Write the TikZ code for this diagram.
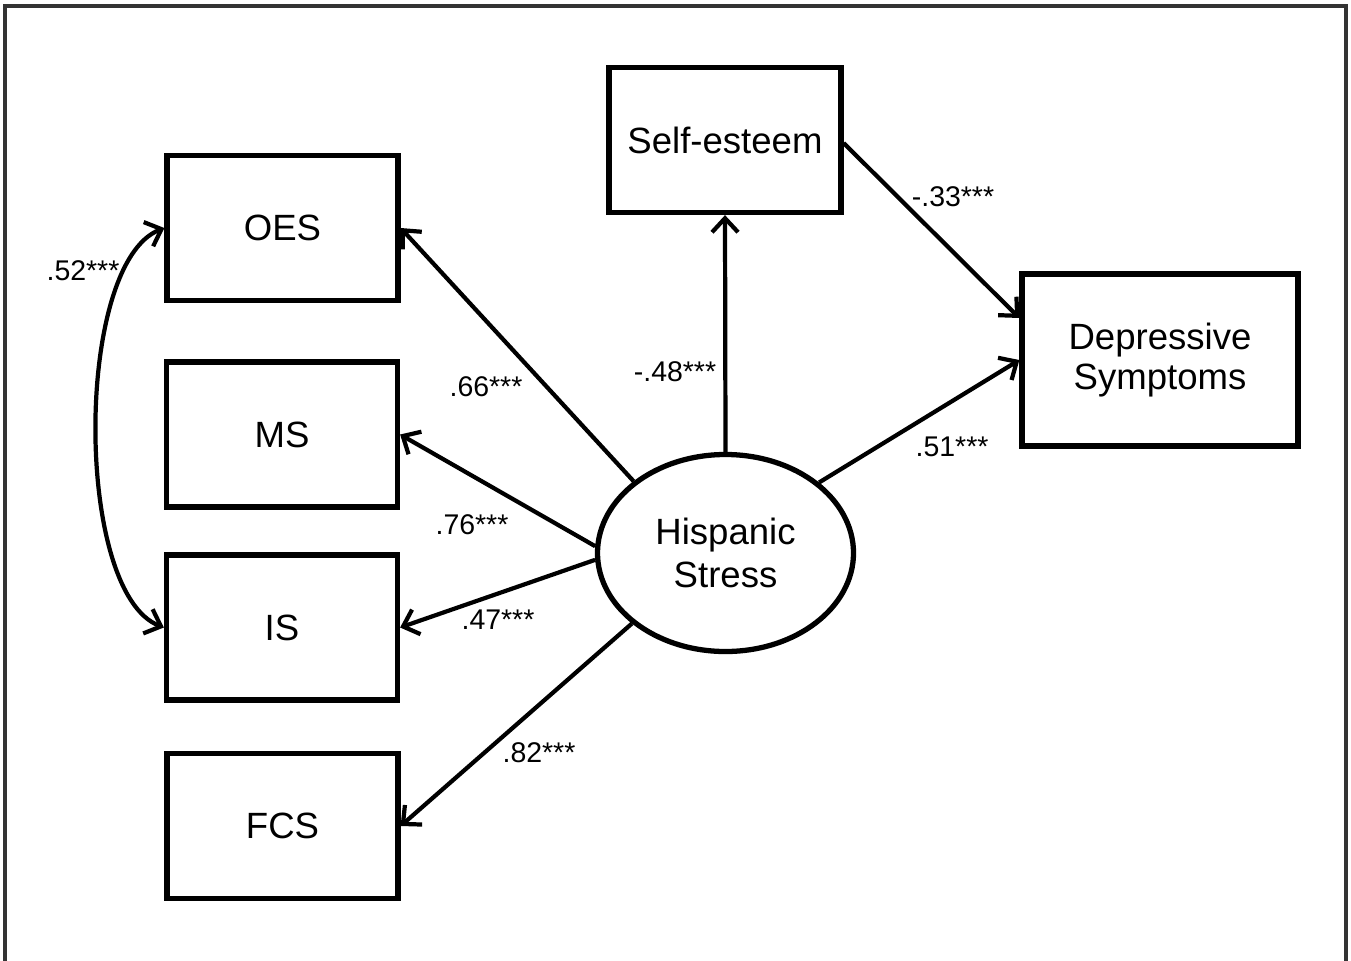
\documentclass[tikz,border=0pt]{standalone}
\usepackage{fontspec}
\setmainfont{Liberation Sans}
\usetikzlibrary{arrows.meta,shapes.geometric}
\begin{document}
\begin{tikzpicture}[line width=1.2pt,
  >={Straight Barb[length=1.4mm,width=2.6mm,line width=1.2pt]}]
\tikzset{box/.style={draw,line width=1.5pt,minimum width=2.31cm,minimum height=1.45cm,
  font=\fontsize{10.4}{11.4}\selectfont,align=center},
  coef/.style={font=\fontsize{8.1}{9.5}\selectfont,inner sep=1pt}}
\useasboundingbox (0,0) rectangle (13.51,9.60);
\draw[line width=1.3pt,draw=black!80] (0.05,-0.2) rectangle (13.46,9.54);
% variables
\node[box] (oes) at (2.825,7.32) {OES};
\node[box] (ms) at (2.82,5.255) {MS};
\node[box] (is) at (2.82,3.325) {IS};
\node[box] (fcs) at (2.825,1.34) {FCS};
\node[box,minimum width=2.32cm] (se) at (7.25,8.20) {Self-esteem};
\node[box,minimum width=2.76cm,minimum height=1.72cm] (dep) at (11.60,6.00)
  {Depressive\\Symptoms};
\node[box,ellipse,minimum width=2.56cm,minimum height=1.97cm,inner sep=0pt,
  font=\fontsize{10.4}{12.4}\selectfont] (hs)
  at (7.255,4.07) {Hispanic\\Stress};
% paths
\draw[->] (hs.142.7) -- (oes.east);
\draw[->] (hs.177) -- (ms.east);
\draw[->] (hs.183) -- (is.east);
\draw[->] (hs.217) -- (fcs.east);
\draw[->] (hs.north) -- (se.south);
\draw[->] (hs.37) -- (dep.west);
\draw[->] ([yshift=-0.03cm]se.east) -- ([yshift=0.42cm]dep.west);
\draw[<->] (oes.west) .. controls +(-0.9,-0.35) and +(-0.9,0.35) .. (is.west);
% coefficients
\node[coef] at (0.83,6.89) {.52***};
\node[coef] at (4.86,5.73) {.66***};
\node[coef] at (6.75,5.88) {-.48***};
\node[coef] at (9.53,7.63) {-.33***};
\node[coef] at (9.52,5.13) {.51***};
\node[coef] at (4.72,4.35) {.76***};
\node[coef] at (4.98,3.40) {.47***};
\node[coef] at (5.39,2.07) {.82***};
\end{tikzpicture}
\end{document}
